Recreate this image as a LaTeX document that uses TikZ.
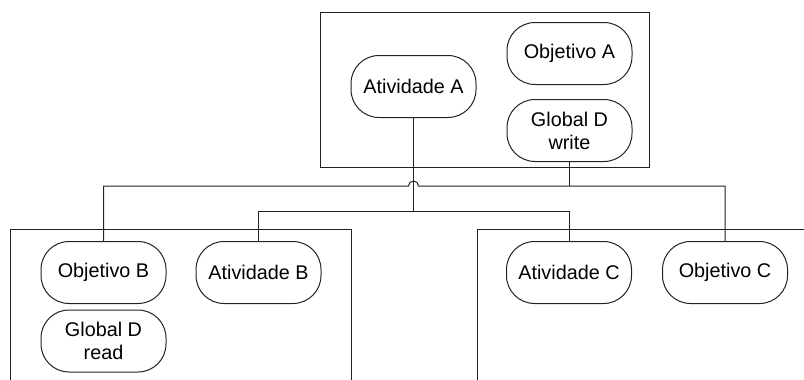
\documentclass[tikz,border=0pt]{standalone}
\usepackage{fontspec}
\setmainfont{Liberation Sans}
\usetikzlibrary{calc}
\definecolor{ink}{HTML}{222222}
\tikzset{
  pill/.style={draw=ink, line width=1pt, rounded corners=28pt, minimum width=125pt,
    minimum height=62pt, inner sep=0pt, align=center,
    font=\fontsize{19.8}{23}\selectfont},
  wire/.style={draw=ink, line width=1pt},
}
\begin{document}
\begin{tikzpicture}[x=1pt,y=1pt]
\useasboundingbox (0,0) rectangle (804,-380);
\clip (0,0) rectangle (804,-380);

% frames
\draw[wire] (320,-12) rectangle (649,-167);
\draw[wire] (10,-385) -- (10,-229) -- (351,-229) -- (351,-385);
\draw[wire] (477,-385) -- (477,-229) -- (810,-229);

% upper group
\node[pill] (AA) at (413.5,-86.5) {Atividade A};
\node[pill] (OA) at (569.5,-53.5) {Objetivo A};
\node[pill] (GDW) at (569.5,-130.5) {Global D\\write};

% left group
\node[pill] (OB) at (103.5,-272.5) {Objetivo B};
\node[pill] (GDR) at (103.5,-341) {Global D\\read};
\node[pill] (AB) at (258.5,-272.5) {Atividade B};

% right group
\node[pill] (AC) at (569,-272.5) {Atividade C};
\node[pill] (OC) at (725,-272.5) {Objetivo C};

% bus levels
\coordinate (bus1) at (0,-186);
\coordinate (bus2) at (0,-211);

% objectives bus, hopping over the activity trunk
\draw[wire] (GDW.south) -- (GDW.south |- bus1);
\draw[wire] (OB.north) -- (OB.north |- bus1)
  -- ($(AA.south |- bus1)+(-5,0)$) arc[start angle=180,end angle=0,radius=5]
  -| (OC.north);

% activities bus
\draw[wire] (AA.south) -- (AA.south |- bus2);
\draw[wire] (AB.north) -- (AB.north |- bus2) -| (AC.north);
\end{tikzpicture}
\end{document}
